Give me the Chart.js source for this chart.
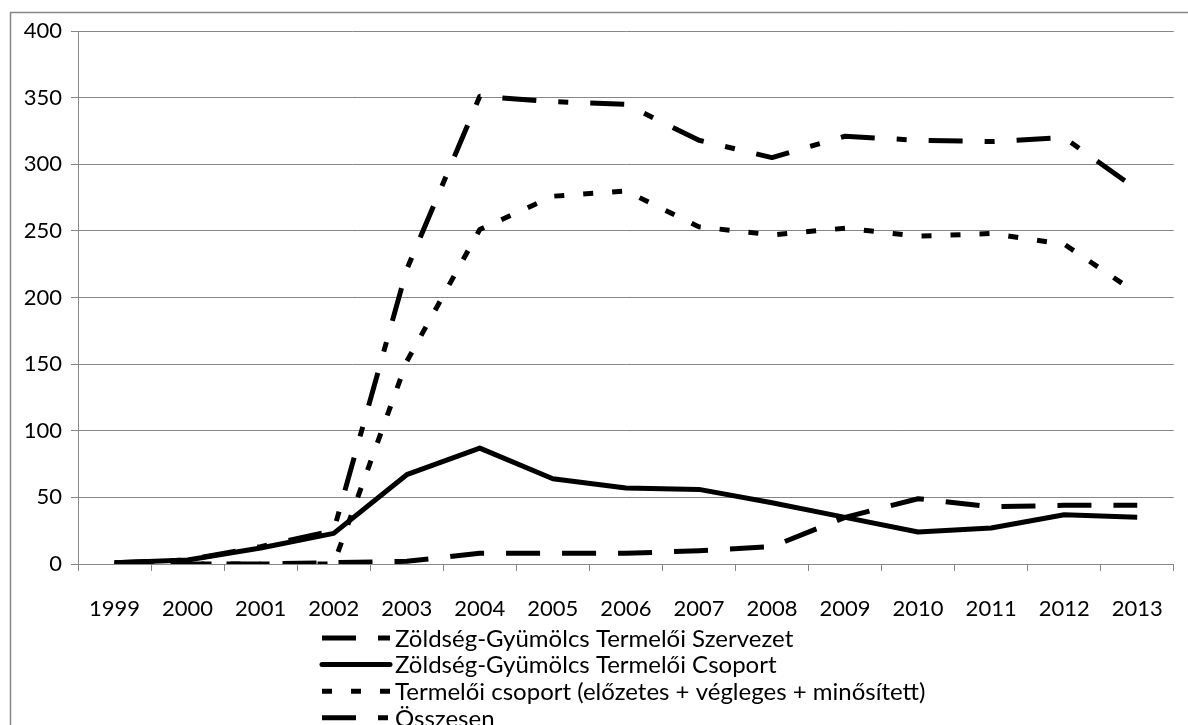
<!DOCTYPE html>
<html>
<head>
<meta charset="utf-8">
<script src="https://cdn.jsdelivr.net/npm/chart.js@4.4.1/dist/chart.umd.min.js"></script>
<style>
  html, body { margin: 0; padding: 0; background: #fff; }
  #wrap { position: relative; width: 1188px; height: 725px; }
</style>
</head>
<body>
<div id="wrap"><canvas id="Chart" width="1188" height="725"></canvas></div>
<script>
const years = ["1999", "2000", "2001", "2002", "2003", "2004", "2005", "2006",
  "2007", "2008", "2009", "2010", "2011", "2012", "2013"];
const szervezet = [0, 0, 0, 1, 2, 8, 8, 8, 10, 13, 35, 49, 43, 44, 44];
const csoport = [1, 3, 12, 23, 67, 87, 64, 57, 56, 46, 35, 24, 27, 37, 35];
const termeloi = [0, 0, 0, 0, 152, 251, 276, 280, 253, 247, 252, 246, 248, 240, 203];
const osszesen = [1, 3, 13, 25, 221, 351, 347, 345, 318, 305, 321, 318, 317, 320, 281];
const yTicks = [0, 50, 100, 150, 200, 250, 300, 350, 400];

const FONT = "Lato, 'Open Sans', sans-serif";
const GRID = "#878787";

// frame around the whole chart (only top and left edges are in view)
const frame = {
  id: "frame",
  beforeDraw(chart) {
    const ctx = chart.ctx;
    ctx.save();
    ctx.strokeStyle = GRID;
    ctx.lineWidth = 1.5;
    ctx.strokeRect(10.5, 12.5, 1400, 1000);
    ctx.restore();
  },
};

// vertical legend with line samples under the chart
const legendLines = {
  id: "legendLines",
  afterDraw(chart) {
    const ctx = chart.ctx;
    const x0 = chart.chartArea.left + 244;
    const y0 = chart.chartArea.bottom + 74;
    chart.data.datasets.forEach((ds, i) => {
      const y = y0 + i * 26.6;
      ctx.save();
      ctx.strokeStyle = ds.borderColor;
      ctx.lineWidth = ds.borderWidth;
      ctx.setLineDash(ds.borderDash || []);
      ctx.lineCap = ds.borderDash ? "butt" : "round";
      ctx.beginPath();
      ctx.moveTo(x0, y);
      ctx.lineTo(x0 + 68, y);
      ctx.stroke();
      ctx.setLineDash([]);
      ctx.fillStyle = "#000";
      ctx.font = "24px " + FONT;
      ctx.textBaseline = "middle";
      ctx.fillText(ds.label, x0 + 73, y + 1);
      ctx.restore();
    });
  },
};

const line = (label, data, dash) => ({
  label: label,
  data: data,
  borderColor: "#000",
  borderWidth: 5,
  borderDash: dash,
  borderCapStyle: "butt",
  borderJoinStyle: "round",
  pointRadius: 0,
  tension: 0,
  fill: false,
});

new Chart(document.getElementById("Chart").getContext("2d"), {
  type: "line",
  data: {
    labels: years,
    datasets: [
      line("Zöldség-Gyümölcs Termelői Szervezet", szervezet, [34, 22]),
      line("Zöldség-Gyümölcs Termelői Csoport", csoport, undefined),
      line("Termelői csoport (előzetes + végleges + minősített)", termeloi, [10, 19]),
      line("Összesen", osszesen, [34, 22, 10, 22]),
    ],
  },
  options: {
    responsive: false,
    animation: false,
    devicePixelRatio: 1,
    layout: { padding: { left: 0, right: 7, top: 31, bottom: 105 } },
    plugins: { legend: { display: false }, tooltip: { enabled: false } },
    scales: {
      x: {
        offset: true,
        grid: { offset: true, drawOnChartArea: false, tickLength: 7, color: GRID },
        border: { color: GRID },
        ticks: { color: "#000", font: { family: FONT, size: 22 }, padding: 25, maxRotation: 0, autoSkip: false },
        afterFit: (s) => { s.height = 56; },
      },
      y: {
        min: 0,
        max: 400,
        afterBuildTicks: (s) => { s.ticks = yTicks.map((v) => ({ value: v })); },
        grid: { tickLength: 7, color: GRID },
        border: { color: GRID },
        ticks: { color: "#000", font: { family: FONT, size: 22 }, padding: 9 },
        afterFit: (s) => { s.width = 78; },
      },
    },
  },
  plugins: [frame, legendLines],
});
</script>
</body>
</html>
